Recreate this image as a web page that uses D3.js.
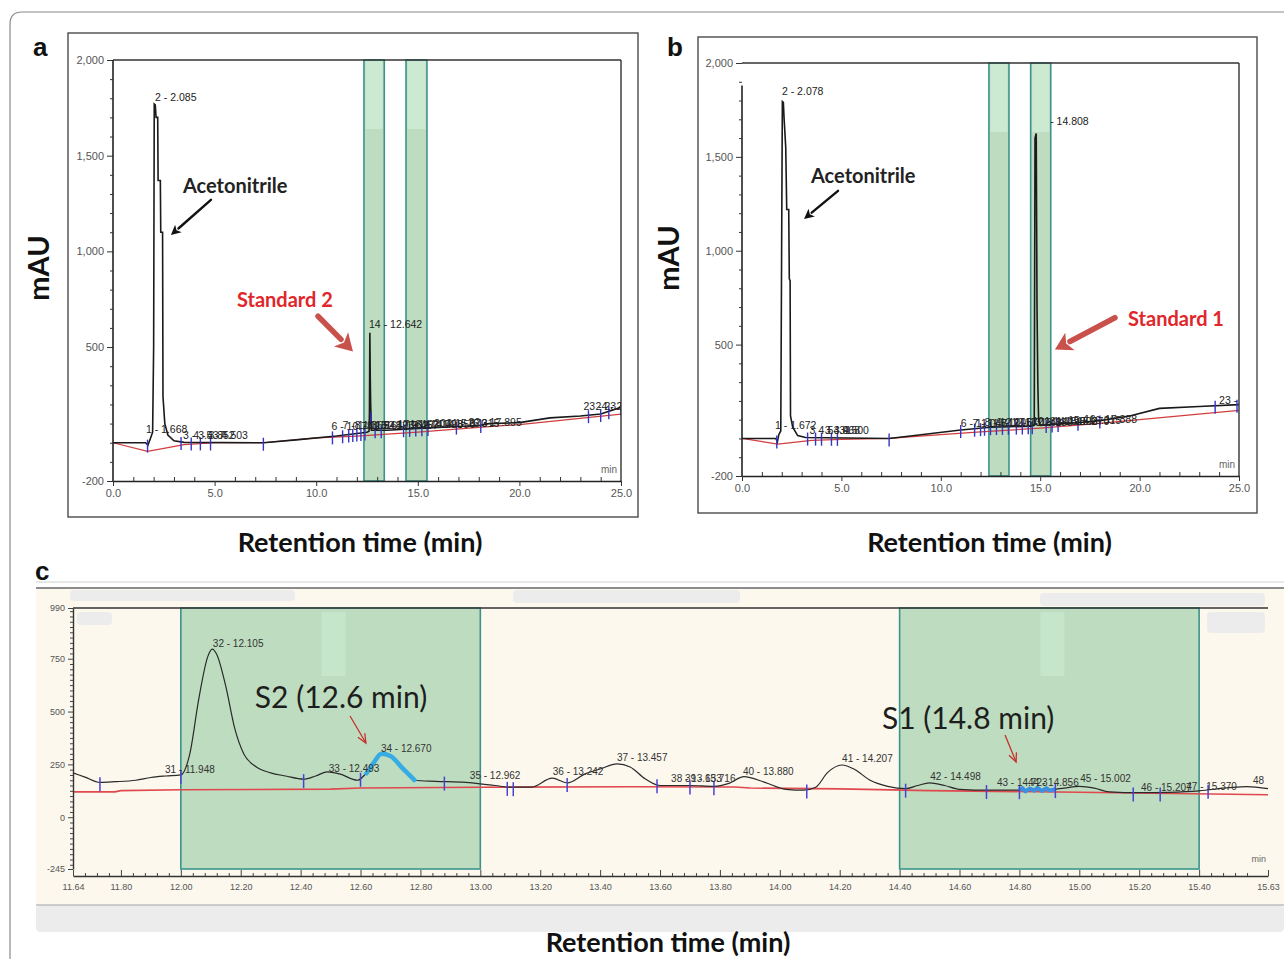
<!DOCTYPE html>
<html>
<head>
<meta charset="utf-8">
<script src="https://cdn.jsdelivr.net/npm/d3@7"></script>
<style>
  body { margin: 0; background: #fff; }
  svg { display: block; }
</style>
</head>
<body>
<script>
// ---- data (time in min, signal in mAU) ----
var timeTicksAB = [0, 5, 10, 15, 20, 25];
var mauTicksAB = [-200, 500, 1000, 1500, 2000];

var traceA = [[0,0],[1.6,0],[1.72,-12],[1.85,25],[1.95,55],[2.0,500],[2.03,1770],[2.08,1765],[2.12,1700],
  [2.2,1700],[2.22,1370],[2.33,1370],[2.35,1100],[2.44,1100],[2.46,240],[2.55,100],[2.7,40],[3.0,10],
  [3.5,2],[7.4,0],[9,15],[11,35],[12.5,55],[12.6,60],[12.62,150],[12.64,575],[12.66,340],[12.68,200],
  [12.72,65],[13.5,65],[15,75],[17,85],[18,90],[18.5,100],[20,105],[21.5,130],[23,140],[24,150],[25,185]];
var baseA = [[0,0],[1.7,-45],[3.5,-10],[5,0],[7.4,0],[10,25],[12,35],[15,55],[18,80],[20,95],[25,150]];
var bandsA = [[12.35, 13.35], [14.42, 15.45]];
var cutsA = [1.7,3.35,3.85,4.3,4.8,7.4,10.8,11.3,11.6,11.8,12.0,12.2,12.4,12.7,12.9,13.2,14.3,14.6,14.9,
  15.2,15.5,16.9,18.1,23.4,24.0,24.4,25.0];
var peakLabelsA = [["2 - 2.085",2.07,1785],["1 - 1.668",1.62,50],["3 - 3.437",3.45,22],["4 - 3.852",3.95,22],
  ["5 - 4.503",4.6,22],["14 - 12.642",12.6,600],
  ["6 - 10.741",10.75,68],["7 - 11.365",11.3,70],["8 - 11.948",11.9,72],["9 - 12.493",12.5,72],
  ["15 - 12.962",12.9,72],["16 - 13.457",13.4,74],["17 - 14.207",14.0,76],["18 - 14.498",14.6,76],
  ["19 - 14.856",15.2,77],["20 - 15.370",15.8,80],["21 - 16.315",16.4,82],["22 - 17.895",17.5,85],
  ["23 - 23.705",23.15,170],["24 - 24.305",23.75,172]];

var traceB = [[0,0],[1.7,0],[1.78,-18],[1.85,20],[1.95,40],[2.0,1150],[2.03,1795],[2.08,1790],[2.12,1700],
  [2.2,1550],[2.25,1220],[2.35,1220],[2.38,850],[2.42,840],[2.44,120],[2.55,60],[2.8,15],[3.2,5],[7.4,0],
  [9,20],[11,45],[12.5,60],[14.6,65],[14.7,70],[14.74,1600],[14.8,1625],[14.84,700],[14.88,300],[14.92,100],
  [15,70],[17,85],[18,95],[19.5,120],[21,160],[23,170],[25,180]];
var baseB = [[0,0],[1.8,-30],[3.5,-10],[5,-5],[7.4,0],[10,20],[12,35],[15,55],[18,80],[20,100],[25,150]];
var bandsB = [[12.42, 13.43], [14.52, 15.53]];
var cutsB = [1.75,3.3,3.7,4.0,4.5,4.8,7.4,11.0,11.7,12.0,12.2,12.5,12.8,13.1,13.4,13.8,14.1,14.4,14.6,
  15.3,15.6,15.9,16.9,18.0,23.8,24.9];
var peakLabelsB = [["2 - 2.078",2.01,1830],["1 - 1.672",1.66,48],["3 - 3.431",3.4,25],["4 - 3.968",3.85,25],
  ["5 - 4.500",4.3,25],["- 14.808",15.5,1670],
  ["6 - 11.048",11.0,62],["7 - 11.712",11.6,63],["8 - 12.105",12.2,64],["9 - 12.670",12.8,66],
  ["10 - 13.242",13.4,67],["11 - 13.880",14.0,68],["12 - 14.498",14.6,70],["13 - 15.002",15.2,72],
  ["14 - 15.370",15.8,74],["15 - 16.315",16.4,76],["16 - 17.888",17.2,80],["23 - 24.305",24.0,185]];

var timeTicksC = [11.64,11.80,12.00,12.20,12.40,12.60,12.80,13.00,13.20,13.40,13.60,13.80,14.00,14.20,
  14.40,14.60,14.80,15.00,15.20,15.40,15.63];
var mauTicksC = [-245, 0, 250, 500, 750, 990];
var traceC = [[11.64,210],[11.68,190],[11.73,165],[11.78,168],[11.85,175],[11.9,188],[11.95,195],[12.0,200],
  [12.03,300],[12.06,560],[12.09,760],[12.105,795],[12.12,770],[12.15,620],[12.18,420],[12.21,300],[12.25,240],
  [12.3,210],[12.35,195],[12.41,180],[12.45,195],[12.49,215],[12.53,205],[12.59,175],[12.62,210],[12.67,300],
  [12.7,290],[12.74,230],[12.78,175],[12.85,170],[12.95,165],[13.05,150],[13.1,142],[13.17,142],[13.24,185],
  [13.29,162],[13.35,205],[13.4,228],[13.457,252],[13.5,238],[13.55,182],[13.6,150],[13.7,150],[13.78,146],
  [13.83,160],[13.88,192],[13.95,165],[14.02,132],[14.08,128],[14.12,142],[14.16,212],[14.207,247],
  [14.25,226],[14.3,176],[14.36,146],[14.42,135],[14.46,150],[14.5,163],[14.55,150],[14.6,132],[14.7,128],
  [14.8,128],[14.9,130],[14.95,138],[15.0,146],[15.05,138],[15.1,120],[15.2,116],[15.3,118],[15.4,125],
  [15.5,140],[15.56,145],[15.63,135]];
var baseC = [[11.64,120],[11.78,120],[11.8,126],[12.0,130],[12.5,133],[12.6,138],[13.0,142],[13.5,144],
  [13.85,143],[13.9,138],[14.2,134],[14.5,126],[15.0,118],[15.63,106]];
var bandsC = [[12.0, 13.0], [14.4, 15.4]];
var cutsC = [11.73,12.0,12.41,12.6,12.88,13.09,13.11,13.29,13.59,13.7,13.78,14.09,14.42,14.69,14.8,14.92,
  15.18,15.27,15.43];
var s2Highlight = [[12.62,208],[12.645,260],[12.67,300],[12.7,290],[12.74,232],[12.78,176]];
var s1Highlight = [[14.8,128],[14.81,138],[14.82,122],[14.835,136],[14.85,126],[14.86,140],[14.875,124],
  [14.89,138],[14.9,126],[14.92,132]];
var peakLabelsC = [["31 - 11.948",11.947,209],["32 - 12.105",12.107,805],["33 - 12.493",12.494,214],
  ["34 - 12.670",12.668,309],["35 - 12.962",12.965,181],["36 - 13.242",13.242,200],["37 - 13.457",13.456,266],
  ["38 - 13.653",13.637,166],["39 - 13.716",13.683,166],["40 - 13.880",13.877,200],["41 - 14.207",14.208,261],
  ["42 - 14.498",14.502,176],["43 - 14.723",14.725,148],["44 - 14.856",14.829,148],["45 - 15.002",15.003,166],
  ["46 - 15.207",15.206,124],["47 - 15.370",15.357,129],["48",15.58,157]];

// ---- page ----
var W = 1284, H = 959;
var svg = d3.select("body").append("svg")
  .attr("width", W).attr("height", H)
  .style("font-family", "'Liberation Sans', Arial, sans-serif");

// outer figure border (rounded top-left corner, cut by the page on the right/bottom)
svg.append("path")
  .attr("d", "M10,959 V24 Q10,12 22,12 H1284")
  .attr("fill", "none").attr("stroke", "#8a8a8a").attr("stroke-width", 1.2);

var bandFill = "#bedcbf", bandLight = "#cbead1", bandEdge = "#3b948c";
var boldFont = "Lato, 'Open Sans', sans-serif";

function valueAt(series, t) {
  var i = d3.bisector(function(d) { return d[0]; }).left(series, t);
  if (i <= 0) return series[0][1];
  if (i >= series.length) return series[series.length - 1][1];
  var a = series[i - 1], b = series[i];
  return a[1] + (b[1] - a[1]) * (t - a[0]) / (b[0] - a[0]);
}

function arrow(g, x1, y1, x2, y2, o) {
  var ang = Math.atan2(y2 - y1, x2 - x1);
  var bx = x2 - o.head * Math.cos(ang), by = y2 - o.head * Math.sin(ang);
  var px = -Math.sin(ang) * o.half, py = Math.cos(ang) * o.half;
  if (o.open) {
    g.append("line").attr("x1", x1).attr("y1", y1).attr("x2", x2).attr("y2", y2)
      .attr("stroke", o.color).attr("stroke-width", o.width);
    g.append("path").attr("d", "M" + (bx + px) + "," + (by + py) + "L" + x2 + "," + y2 + "L" + (bx - px) + "," + (by - py))
      .attr("fill", "none").attr("stroke", o.color).attr("stroke-width", o.width);
  } else {
    g.append("line").attr("x1", x1).attr("y1", y1).attr("x2", bx).attr("y2", by)
      .attr("stroke", o.color).attr("stroke-width", o.width).attr("stroke-linecap", "round");
    g.append("path").attr("d", "M" + x2 + "," + y2 + "L" + (bx + px) + "," + (by + py) + "L" + (bx + 0.25 * o.head * Math.cos(ang)) + "," + (by + 0.25 * o.head * Math.sin(ang)) + "L" + (bx - px) + "," + (by - py) + "Z")
      .attr("fill", o.color);
  }
}

function mauFormat(d) { return d < 0 ? "-" + Math.abs(d) : d3.format(",")(d); }

// Panels a and b share the same layout style
function drawAB(p) {
  var g = svg.append("g");
  g.append("rect")
    .attr("x", p.frame[0]).attr("y", p.frame[1])
    .attr("width", p.frame[2] - p.frame[0]).attr("height", p.frame[3] - p.frame[1])
    .attr("fill", "#fff").attr("stroke", "#4a4a4a").attr("stroke-width", 1.4);

  var x = d3.scaleLinear().domain([0, 25]).range([p.left, p.right]);
  var y = d3.scaleLinear().domain([-200, 2000]).range([p.bottom, p.top]);

  svg.append("clipPath").attr("id", "clip" + p.id)
    .append("rect").attr("x", p.left).attr("y", p.top)
    .attr("width", p.right - p.left).attr("height", p.bottom - p.top);

  // highlighted windows
  p.bands.forEach(function(b) {
    g.append("rect").attr("x", x(b[0])).attr("y", p.top)
      .attr("width", x(b[1]) - x(b[0])).attr("height", p.bottom - p.top)
      .attr("fill", bandFill).attr("stroke", bandEdge).attr("stroke-width", 1.6);
    g.append("rect").attr("x", x(b[0]) + 1.5).attr("y", p.top + 1)
      .attr("width", x(b[1]) - x(b[0]) - 3).attr("height", 68)
      .attr("fill", bandLight);
  });

  var pg = g.append("g").attr("clip-path", "url(#clip" + p.id + ")");
  var line = d3.line().x(function(d) { return x(d[0]); }).y(function(d) { return y(d[1]); });

  pg.append("path").datum(p.base).attr("d", line)
    .attr("fill", "none").attr("stroke", "#d23c3c").attr("stroke-width", 1.2);
  pg.append("path").datum(p.trace).attr("d", line)
    .attr("fill", "none").attr("stroke", "#1a1a1a").attr("stroke-width", 1.6);

  pg.selectAll(".cut").data(p.cuts).enter().append("line")
    .attr("x1", function(d) { return x(d); }).attr("x2", function(d) { return x(d); })
    .attr("y1", function(d) { return y(valueAt(p.trace, d)) - 5; })
    .attr("y2", function(d) { return y(valueAt(p.trace, d)) + 8; })
    .attr("stroke", "#3535c8").attr("stroke-width", 1.4);

  pg.selectAll(".pl").data(p.labels).enter().append("text")
    .attr("x", function(d) { return x(d[1]); }).attr("y", function(d) { return y(d[2]); })
    .attr("font-size", 10.5).attr("fill", "#222").style("font-stretch", "condensed")
    .text(function(d) { return d[0]; });

  // frame of the plot area
  g.append("line").attr("x1", p.left).attr("x2", p.right).attr("y1", p.top).attr("y2", p.top)
    .attr("stroke", "#333").attr("stroke-width", 1.4);
  g.append("line").attr("x1", p.right).attr("x2", p.right).attr("y1", p.top).attr("y2", p.bottom)
    .attr("stroke", "#333").attr("stroke-width", 1.4);

  // y axis
  var yAx = g.append("g").attr("transform", "translate(" + p.left + ",0)")
    .call(d3.axisLeft(y).tickValues(mauTicksAB).tickFormat(mauFormat).tickSize(6).tickSizeOuter(0));
  yAx.select(".domain").remove();
  g.append("line").attr("x1", p.left).attr("x2", p.left)
    .attr("y1", y(p.axisFrom)).attr("y2", p.bottom).attr("stroke", "#222").attr("stroke-width", 1.6);
  g.append("g").attr("transform", "translate(" + p.left + ",0)")
    .call(d3.axisLeft(y).tickValues(d3.range(-100, 2000, 100).filter(function(v) { return mauTicksAB.indexOf(v) < 0; }))
      .tickFormat("").tickSize(3).tickSizeOuter(0))
    .select(".domain").remove();

  // x axis
  var xAx = g.append("g").attr("transform", "translate(0," + p.bottom + ")")
    .call(d3.axisBottom(x).tickValues(timeTicksAB).tickFormat(d3.format(".1f")).tickSize(5).tickSizeOuter(0));
  xAx.select(".domain").attr("stroke", "#222").attr("stroke-width", 1.6);
  g.append("g").attr("transform", "translate(0," + p.bottom + ")")
    .call(d3.axisBottom(x).tickValues(d3.range(1, 25).filter(function(v) { return v % 5 !== 0; }))
      .tickFormat("").tickSize(-4).tickSizeOuter(0))
    .select(".domain").remove();

  g.selectAll(".tick text").attr("font-size", 11).attr("fill", "#555").style("font-stretch", "condensed");
  g.selectAll(".tick line").attr("stroke", "#333");

  g.append("text").attr("x", p.right - 4).attr("y", p.bottom - 8).attr("text-anchor", "end")
    .attr("font-size", 10).attr("fill", "#666").text("min");

  // annotations
  var ac = p.aceto;
  g.append("text").attr("x", x(ac[0])).attr("y", y(ac[1]))
    .attr("font-family", boldFont).attr("font-weight", 700).attr("font-size", 20).attr("fill", "#222")
    .text("Acetonitrile");
  arrow(g, x(ac[2]), y(ac[3]), x(ac[4]), y(ac[5]), { color: "#111", width: 2.4, head: 10, half: 5 });

  var st = p.std;
  g.append("text").attr("x", x(st[0])).attr("y", y(st[1]))
    .attr("font-family", boldFont).attr("font-weight", 700).attr("font-size", 20).attr("fill", "#e0262b")
    .text(p.stdText);
  arrow(g, x(st[2]), y(st[3]), x(st[4]), y(st[5]), { color: "#c9514b", width: 5.5, head: 17, half: 10 });

  // panel letter and titles
  svg.append("text").attr("x", p.letter[0]).attr("y", p.letter[1])
    .attr("font-weight", 700).attr("font-size", 26).attr("fill", "#111").text(p.id);
  svg.append("text").attr("transform", "translate(" + p.yTitle[0] + "," + p.yTitle[1] + ") rotate(-90)")
    .attr("text-anchor", "middle").attr("font-family", boldFont).attr("font-weight", 700)
    .attr("font-size", 29).attr("fill", "#111").text("mAU");
  svg.append("text").attr("x", (p.frame[0] + p.frame[2]) / 2 + p.xTitleShift).attr("y", 552)
    .attr("text-anchor", "middle").attr("font-family", boldFont).attr("font-weight", 700)
    .attr("font-size", 27).attr("fill", "#111").text("Retention time (min)");
}

drawAB({
  id: "a", frame: [68, 33, 638, 517], left: 113, right: 621, top: 60, bottom: 481, axisFrom: 2000,
  trace: traceA, base: baseA, bands: bandsA, cuts: cutsA, labels: peakLabelsA,
  aceto: [3.44, 1306, 4.82, 1269, 2.85, 1085],
  std: [6.1, 708, 10.09, 661, 11.81, 477], stdText: "Standard 2",
  letter: [33, 56], yTitle: [49, 268], xTitleShift: 7
});
drawAB({
  id: "b", frame: [698, 37, 1257, 513], left: 742, right: 1239, top: 63, bottom: 476, axisFrom: 1880,
  trace: traceB, base: baseB, bands: bandsB, cuts: cutsB, labels: peakLabelsB,
  aceto: [3.47, 1361, 4.83, 1319, 3.12, 1169],
  std: [19.42, 597, 18.76, 643, 15.74, 474], stdText: "Standard 1",
  letter: [667, 56], yTitle: [679, 258], xTitleShift: 12
});

// ---- panel c: zoomed software view ----
(function() {
  var g = svg.append("g");
  var L = 73, R = 1268, T = 608, B = 869;

  g.append("line").attr("x1", 36).attr("x2", W).attr("y1", 582).attr("y2", 582).attr("stroke", "#d0d0d0");
  g.append("rect").attr("x", 36).attr("y", 588).attr("width", W - 36).attr("height", 316).attr("fill", "#fcf8ed");
  g.append("line").attr("x1", 36).attr("x2", W).attr("y1", 588).attr("y2", 588).attr("stroke", "#8c8c8c").attr("stroke-width", 2);
  g.append("rect").attr("x", 36).attr("y", 905).attr("width", W - 36).attr("height", 27).attr("rx", 4).attr("fill", "#ececec");
  g.append("line").attr("x1", 36).attr("x2", W).attr("y1", 905).attr("y2", 905).attr("stroke", "#bcbcbc").attr("stroke-width", 1.5);
  [[70, 590, 225, 11], [513, 590, 227, 13], [1040, 593, 225, 13], [1207, 612, 58, 21], [77, 612, 35, 13]].forEach(function(r) {
    g.append("rect").attr("x", r[0]).attr("y", r[1]).attr("width", r[2]).attr("height", r[3])
      .attr("rx", 4).attr("fill", "#ececec");
  });

  var x = d3.scaleLinear().domain([11.64, 15.63]).range([L, R]);
  var y = d3.scaleLinear().domain([-245, 990]).range([B, T]);

  bandsC.forEach(function(b) {
    g.append("rect").attr("x", x(b[0])).attr("y", T).attr("width", x(b[1]) - x(b[0])).attr("height", B - T)
      .attr("fill", bandFill).attr("stroke", bandEdge).attr("stroke-width", 1.6);
    g.append("rect").attr("x", x(b[0] + 0.47)).attr("y", T + 4).attr("width", x(b[0] + 0.55) - x(b[0] + 0.47))
      .attr("height", 64).attr("fill", "#c6e6cb");
  });

  g.append("line").attr("x1", L).attr("x2", R).attr("y1", T).attr("y2", T).attr("stroke", "#333").attr("stroke-width", 1.5);

  var smooth = d3.line().curve(d3.curveMonotoneX)
    .x(function(d) { return x(d[0]); }).y(function(d) { return y(d[1]); });
  var straight = d3.line().x(function(d) { return x(d[0]); }).y(function(d) { return y(d[1]); });

  g.append("path").datum(baseC).attr("d", straight).attr("fill", "none").attr("stroke", "#e0484e").attr("stroke-width", 1.6);
  g.append("path").datum(traceC).attr("d", smooth).attr("fill", "none").attr("stroke", "#2a2a2a").attr("stroke-width", 1.2);
  g.append("path").datum(s2Highlight).attr("d", smooth).attr("fill", "none")
    .attr("stroke", "#36ace4").attr("stroke-width", 4.5).attr("stroke-linecap", "round");
  g.append("path").datum(s1Highlight).attr("d", straight).attr("fill", "none")
    .attr("stroke", "#3d8fe0").attr("stroke-width", 4).attr("stroke-linejoin", "round");

  g.selectAll(".cut").data(cutsC).enter().append("line")
    .attr("x1", function(d) { return x(d); }).attr("x2", function(d) { return x(d); })
    .attr("y1", function(d) { return y(valueAt(traceC, d)) - 5; })
    .attr("y2", function(d) { return y(valueAt(traceC, d)) + 9; })
    .attr("stroke", "#4a42d6").attr("stroke-width", 1.5);

  g.selectAll(".pl").data(peakLabelsC).enter().append("text")
    .attr("x", function(d) { return x(d[1]); }).attr("y", function(d) { return y(d[2]); })
    .attr("font-size", 10).attr("fill", "#333").text(function(d) { return d[0]; });

  // axes
  var yAx = g.append("g").attr("transform", "translate(" + L + ",0)")
    .call(d3.axisLeft(y).tickValues(mauTicksC).tickFormat(function(d) { return d < 0 ? "-" + Math.abs(d) : d; })
      .tickSize(5).tickSizeOuter(0));
  yAx.select(".domain").attr("stroke", "#333").attr("stroke-width", 1.4);
  g.append("g").attr("transform", "translate(" + L + ",0)")
    .call(d3.axisLeft(y).tickValues(d3.range(-225, 990, 25).filter(function(v) { return v % 250 !== 0; }))
      .tickFormat("").tickSize(3).tickSizeOuter(0))
    .select(".domain").remove();

  var xAx = g.append("g").attr("transform", "translate(0,876)")
    .call(d3.axisBottom(x).tickValues(timeTicksC).tickFormat(d3.format(".2f")).tickSize(-6).tickSizeOuter(0));
  xAx.select(".domain").attr("stroke", "#333").attr("stroke-width", 1.4);
  xAx.selectAll(".tick text").attr("y", 8);
  g.append("g").attr("transform", "translate(0,876)")
    .call(d3.axisBottom(x).tickValues(d3.range(292, 391).map(function(i) { return i * 0.04; })
        .filter(function(v) { return Math.abs(v * 5 - Math.round(v * 5)) > 0.01; }))
      .tickFormat("").tickSize(-3).tickSizeOuter(0))
    .select(".domain").remove();

  g.selectAll(".tick text").attr("font-size", 9).attr("fill", "#555");
  g.selectAll(".tick line").attr("stroke", "#444");

  g.append("text").attr("x", R - 2).attr("y", 862).attr("text-anchor", "end")
    .attr("font-size", 9).attr("fill", "#666").text("min");

  // S2 / S1 callouts (anchored in data space)
  var callouts = [["S2 (12.6 min)", 12.247, 517, 12.565, 479, 12.618, 351],
                  ["S1 (14.8 min)", 14.341, 417, 14.752, 389, 14.789, 261]];
  callouts.forEach(function(c) {
    g.append("text").attr("x", x(c[1])).attr("y", y(c[2]))
      .attr("font-family", boldFont).attr("font-size", 30).attr("fill", "#1e1e1e").text(c[0]);
    arrow(g, x(c[3]), y(c[4]), x(c[5]), y(c[6]), { color: "#c8302e", width: 1.3, head: 9, half: 4, open: true });
  });

  svg.append("text").attr("x", 35).attr("y", 580)
    .attr("font-weight", 700).attr("font-size", 26).attr("fill", "#111").text("c");
  svg.append("text").attr("x", 668).attr("y", 952).attr("text-anchor", "middle")
    .attr("font-family", boldFont).attr("font-weight", 700).attr("font-size", 27).attr("fill", "#111")
    .text("Retention time (min)");
})();
</script>
</body>
</html>
